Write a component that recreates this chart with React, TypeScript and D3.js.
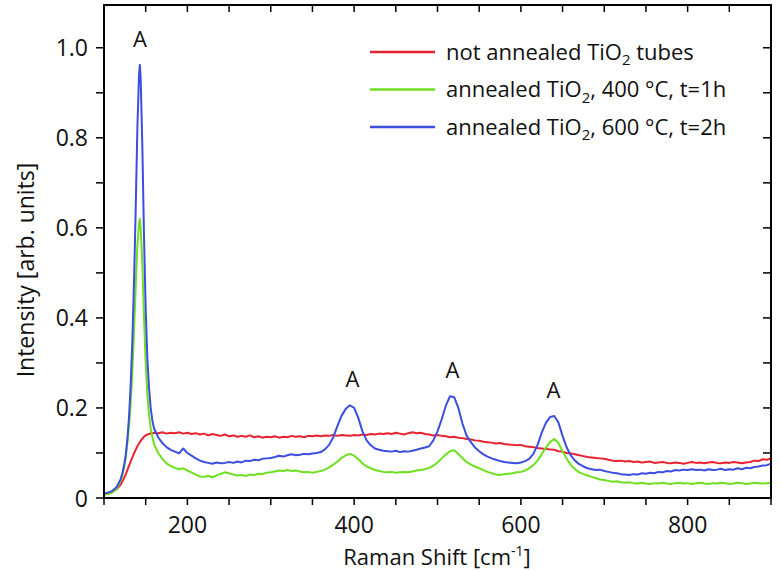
import React from "react";
import * as d3 from "d3";

const shift = [100,105,110,115,120,122,124,126,128,130,132,134,136,138,140,142,143,144,146,148,150,152,154,156,158,160,
165,170,175,180,185,190,195,200,205,210,215,220,225,230,235,240,245,250,255,260,265,270,275,280,285,290,295,300,
305,310,315,320,325,330,335,340,345,350,355,360,365,370,375,380,385,390,395,400,405,410,415,420,425,430,435,440,445,450,
455,460,465,470,475,480,485,490,495,500,505,510,515,520,525,530,535,540,545,550,555,560,565,570,575,580,585,590,595,600,
605,610,615,620,625,630,635,640,645,650,655,660,665,670,675,680,685,690,695,700,705,710,715,720,725,730,735,740,745,750,
755,760,765,770,775,780,785,790,795,800,805,810,815,820,825,830,835,840,845,850,855,860,865,870,875,880,885,890,895,900];

const notAnnealed = [.010,.011,.014,.019,.030,.037,.044,.052,.062,.072,.081,.090,.099,.107,.115,.121,.124,.127,.132,.136,.139,.141,.142,.144,.143,.145,
.144,.146,.143,.145,.144,.146,.143,.145,.142,.144,.141,.143,.139,.142,.140,.138,.141,.137,.139,.136,.138,.136,.139,.135,.137,.134,.136,.135,
.137,.134,.136,.135,.138,.136,.137,.135,.138,.137,.139,.137,.139,.138,.140,.138,.140,.139,.138,.140,.139,.141,.140,.142,.141,.143,.142,.144,.142,.145,
.143,.141,.144,.146,.144,.145,.142,.141,.139,.140,.138,.137,.135,.136,.134,.133,.131,.130,.128,.127,.125,.124,.123,.121,.122,.120,.119,.118,.117,.118,
.115,.114,.113,.111,.110,.109,.108,.107,.104,.103,.100,.099,.097,.095,.093,.091,.090,.089,.088,.087,.085,.083,.082,.083,.081,.082,.080,.081,.079,.080,
.081,.078,.079,.080,.078,.077,.079,.078,.076,.078,.080,.078,.079,.077,.079,.080,.078,.077,.079,.078,.080,.079,.077,.079,.080,.083,.082,.086,.085,.088];

const annealed400 = [.007,.009,.012,.020,.038,.050,.066,.088,.120,.160,.210,.280,.370,.470,.560,.610,.620,.600,.520,.400,.300,.230,.185,.155,.135,.120,
.100,.087,.077,.071,.067,.064,.066,.061,.057,.052,.048,.047,.049,.046,.050,.054,.057,.055,.052,.050,.051,.049,.052,.051,.054,.053,.056,.057,
.059,.061,.060,.062,.060,.061,.059,.057,.058,.056,.058,.060,.063,.068,.074,.081,.089,.095,.098,.094,.086,.077,.070,.066,.062,.060,.058,.057,.058,.056,
.057,.058,.057,.059,.061,.062,.064,.067,.072,.079,.088,.097,.104,.106,.098,.088,.080,.074,.070,.066,.062,.058,.055,.052,.051,.053,.054,.055,.057,.058,
.061,.066,.073,.083,.097,.112,.124,.131,.122,.104,.087,.073,.064,.057,.053,.050,.047,.044,.041,.040,.038,.036,.037,.035,.034,.035,.033,.032,.034,.032,
.031,.033,.032,.034,.032,.031,.033,.034,.032,.033,.031,.033,.034,.032,.031,.033,.032,.034,.033,.031,.032,.034,.033,.031,.032,.034,.033,.032,.033,.034];

const annealed600 = [.010,.012,.016,.024,.042,.055,.072,.095,.130,.180,.250,.350,.480,.640,.820,.940,.962,.930,.780,.580,.420,.310,.245,.200,.172,.155,
.135,.122,.113,.107,.103,.099,.110,.100,.094,.088,.083,.080,.078,.076,.079,.077,.078,.080,.078,.081,.079,.083,.082,.085,.084,.087,.088,.089,
.091,.094,.092,.095,.097,.095,.096,.098,.097,.099,.100,.102,.108,.118,.135,.160,.183,.198,.206,.200,.178,.148,.128,.117,.110,.107,.105,.104,.103,.105,
.102,.104,.103,.105,.107,.110,.112,.115,.128,.148,.175,.205,.226,.224,.200,.165,.138,.124,.112,.104,.097,.092,.088,.085,.082,.080,.079,.078,.077,.079,
.082,.087,.098,.118,.145,.167,.180,.182,.168,.138,.112,.094,.083,.075,.070,.066,.064,.062,.063,.060,.058,.056,.055,.053,.052,.051,.053,.052,.055,.054,
.056,.055,.058,.057,.060,.059,.062,.061,.063,.062,.064,.062,.063,.061,.064,.062,.063,.065,.062,.064,.063,.066,.064,.067,.066,.069,.070,.072,.073,.076];

const seriesNames = ["not annealed TiO|2| tubes", "annealed TiO|2|, 400 °C, t=1h", "annealed TiO|2|, 600 °C, t=2h"];
const seriesColors = ["#e8232f", "#6fe01f", "#3b4ee0"];
const xTicks = [200, 400, 600, 800];
const yTicks = [0, 0.2, 0.4, 0.6, 0.8, 1.0];
const yTickLabels = ["0", "0.2", "0.4", "0.6", "0.8", "1.0"];
const peakLabels = [{ x: 143, y: 0.962 }, { x: 398, y: 0.206 }, { x: 518, y: 0.226 }, { x: 639, y: 0.182 }];

const FONT = "'Open Sans', Lato, sans-serif";

function Sub({ text, size }: { text: string; size: number }) {
  const parts = text.split("|");
  return (
    <>
      {parts.map((p, i) =>
        i % 2 === 1 ? (
          <tspan key={i} fontSize={size * 0.68} dy={size * 0.25}>{p}</tspan>
        ) : (
          <tspan key={i} dy={i > 0 ? -size * 0.25 : 0}>{p}</tspan>
        )
      )}
    </>
  );
}

export default function App() {
  const W = 780, H = 571;
  const L = 104, R = 771, T = 5, B = 498;
  const x = d3.scaleLinear().domain([100, 900]).range([L, R]);
  const y = d3.scaleLinear().domain([0, 1.095]).range([B, T]);
  const all = [notAnnealed, annealed400, annealed600];
  const line = d3.line<[number, number]>().x(d => x(d[0])).y(d => y(d[1]));
  const xMinor = d3.range(100, 901, 50);
  const yMinor = d3.range(0, 1.06, 0.1);
  const order = [0, 1, 2];
  return (
    <svg width={W} height={H} style={{ position: "absolute", left: 0, top: 0, background: "#fff" }} fontFamily={FONT}>
      <rect x={0} y={0} width={W} height={H} fill="#fff" />
      <defs>
        <clipPath id="plot"><rect x={L} y={T} width={R - L} height={B - T} /></clipPath>
      </defs>
      <g clipPath="url(#plot)">
        {order.map(i => (
          <path key={i} d={line(shift.map((s, k) => [s, all[i][k]]) as [number, number][]) || ""}
            fill="none" stroke={seriesColors[i]} strokeWidth={2} strokeLinejoin="round" />
        ))}
      </g>
      {xMinor.map(v => (
        <g key={"xt" + v}>
          <line x1={x(v)} x2={x(v)} y1={B} y2={B + 7} stroke="#000" strokeWidth={1.5} />
          <line x1={x(v)} x2={x(v)} y1={T} y2={T + 7} stroke="#000" strokeWidth={1.5} />
        </g>
      ))}
      {yMinor.map(v => (
        <g key={"yt" + v}>
          <line x1={L} x2={L - 8} y1={y(v)} y2={y(v)} stroke="#000" strokeWidth={1.5} />
          <line x1={R} x2={R - 8} y1={y(v)} y2={y(v)} stroke="#000" strokeWidth={1.5} />
        </g>
      ))}
      <rect x={L} y={T} width={R - L} height={B - T} fill="none" stroke="#000" strokeWidth={2} />
      {xTicks.map(v => (
        <text key={"xl" + v} x={x(v)} y={533} textAnchor="middle" fontSize={23} fill="#111">{v}</text>
      ))}
      {yTicks.map((v, i) => (
        <text key={"yl" + v} x={88} y={y(v) + 8.5} textAnchor="end" fontSize={23} fill="#111">{yTickLabels[i]}</text>
      ))}
      <text x={437} y={565} textAnchor="middle" fontSize={22} fill="#111">
        Raman Shift [cm<tspan fontSize={14} dy={-9}>-1</tspan><tspan dy={9}>]</tspan>
      </text>
      <text transform={`translate(34,270) rotate(-90)`} textAnchor="middle" fontSize={23} fill="#111">
        Intensity [arb. units]
      </text>
      {peakLabels.map((p, i) => (
        <text key={"pk" + i} x={x(p.x)} y={y(p.y) - 18} textAnchor="middle" fontSize={22} fill="#111">A</text>
      ))}
      {seriesNames.map((n, i) => (
        <g key={"lg" + i}>
          <line x1={370} x2={435} y1={52 + i * 37.5} y2={52 + i * 37.5} stroke={seriesColors[i]} strokeWidth={2.5} />
          <text x={446} y={52 + i * 37.5 + 7.5} fontSize={22} fill="#111"><Sub text={n} size={22} /></text>
        </g>
      ))}
    </svg>
  );
}
